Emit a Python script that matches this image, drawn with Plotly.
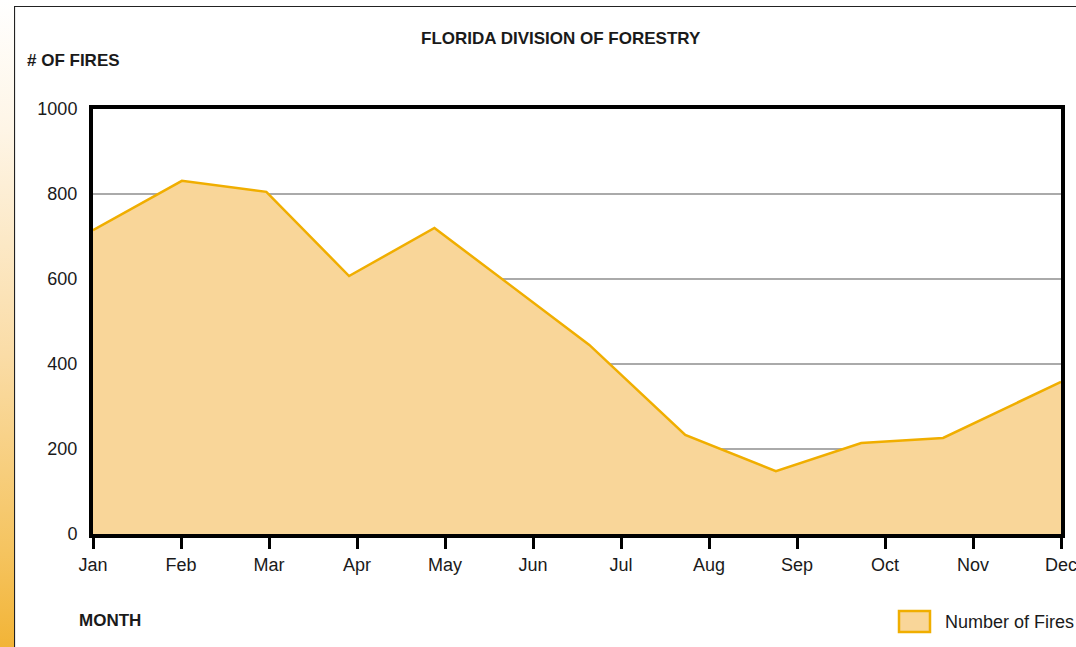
import base64
import plotly.graph_objects as go

MONTHS = ['Jan', 'Feb', 'Mar', 'Apr', 'May', 'Jun',
          'Jul', 'Aug', 'Sep', 'Oct', 'Nov', 'Dec']
# where each reading sits along the month axis (0 = Jan ... 11 = Dec)
month_pos = [0, 1.01, 1.97, 2.91, 3.88, 5.64, 6.73, 7.76, 8.73, 9.66, 11]
fires = [715, 831, 805, 607, 720, 445, 233, 148, 214, 226, 358]
y_ticks = [0, 200, 400, 600, 800, 1000]

W, H = 1076, 647
# plot area in pixels
L, R, T, B = 93, 1061, 109, 534

FONT = "Liberation Sans, Arial, sans-serif"
TEXT = '#1a1a1a'
FILL = '#F9D699'
LINE = '#F0AE00'


def px(x):
    return (x - L) / (R - L)


def py(y):
    return (B - y) / (B - T)


def strip_image():
    svg = ("<svg xmlns='http://www.w3.org/2000/svg' width='14' height='647'>"
           "<defs><linearGradient id='g' x1='0' y1='0' x2='0' y2='1'>"
           "<stop offset='0' stop-color='#ffffff'/>"
           "<stop offset='0.2' stop-color='#fef5e6'/>"
           "<stop offset='0.55' stop-color='#fadca6'/>"
           "<stop offset='0.85' stop-color='#f5c460'/>"
           "<stop offset='1' stop-color='#f2b437'/>"
           "</linearGradient></defs>"
           "<rect width='14' height='647' fill='url(#g)'/></svg>")
    return 'data:image/svg+xml;base64,' + base64.b64encode(svg.encode()).decode()


fig = go.Figure()
fig.add_trace(go.Scatter(x=month_pos, y=fires, mode='lines', fill='tozeroy',
                         fillcolor=FILL, line=dict(color=LINE, width=2.5),
                         name='Number of Fires', showlegend=False))

fig.update_layout(
    width=W, height=H, autosize=False,
    margin=dict(l=L, r=W - R, t=T, b=H - B, pad=0),
    paper_bgcolor='white', plot_bgcolor='white',
    font=dict(family=FONT, size=18, color=TEXT),
    showlegend=False,
)
fig.update_xaxes(range=[0, 11], tickvals=list(range(12)), ticktext=MONTHS,
                 ticks='outside', ticklen=11, tickwidth=2.5, tickcolor='black',
                 showline=True, linewidth=4, linecolor='black', mirror=True,
                 showgrid=False, zeroline=False, tickfont=dict(size=18),
                 ticklabeloverflow='allow', automargin=False)
fig.update_yaxes(range=[0, 1000], tickvals=y_ticks, ticks='',
                 showline=True, linewidth=4, linecolor='black', mirror=True,
                 showgrid=True, gridcolor='#aaaaaa', gridwidth=1.5,
                 zeroline=False, ticklabelstandoff=8, tickfont=dict(size=18),
                 automargin=False)

# outer frame and the gradient strip on the left
fig.add_shape(type='rect', xref='paper', yref='paper',
              x0=px(14.5), x1=px(W + 20), y0=py(6.5), y1=py(H + 20),
              line=dict(color='#222222', width=1.2), layer='below')
fig.add_layout_image(source=strip_image(), xref='paper', yref='paper',
                     x=px(0), y=py(0), sizex=px(14) - px(0), sizey=py(0) - py(H),
                     xanchor='left', yanchor='top', sizing='stretch', layer='above')

# texts
fig.add_annotation(text='<b>FLORIDA DIVISION OF FORESTRY</b>', xref='paper', yref='paper',
                   x=px(561), y=py(38), showarrow=False, xanchor='center', yanchor='middle',
                   font=dict(size=17))
fig.add_annotation(text='<b># OF FIRES</b>', xref='paper', yref='paper',
                   x=px(25), y=py(61), showarrow=False, xanchor='left', yanchor='middle',
                   font=dict(size=17))
fig.add_annotation(text='<b>MONTH</b>', xref='paper', yref='paper',
                   x=px(77), y=py(620), showarrow=False, xanchor='left', yanchor='middle',
                   font=dict(size=17))

# legend swatch
fig.add_shape(type='rect', xref='paper', yref='paper',
              x0=px(899), x1=px(930), y0=py(611), y1=py(632),
              fillcolor=FILL, line=dict(color=LINE, width=2.5))
fig.add_annotation(text='Number of Fires', xref='paper', yref='paper',
                   x=px(943), y=py(622), showarrow=False, xanchor='left', yanchor='middle',
                   font=dict(size=18))

fig.write_html("out.html", config={'displayModeBar': False, 'responsive': False},
               post_script="document.body.style.margin='0';"
                           "document.body.style.overflow='hidden';")
